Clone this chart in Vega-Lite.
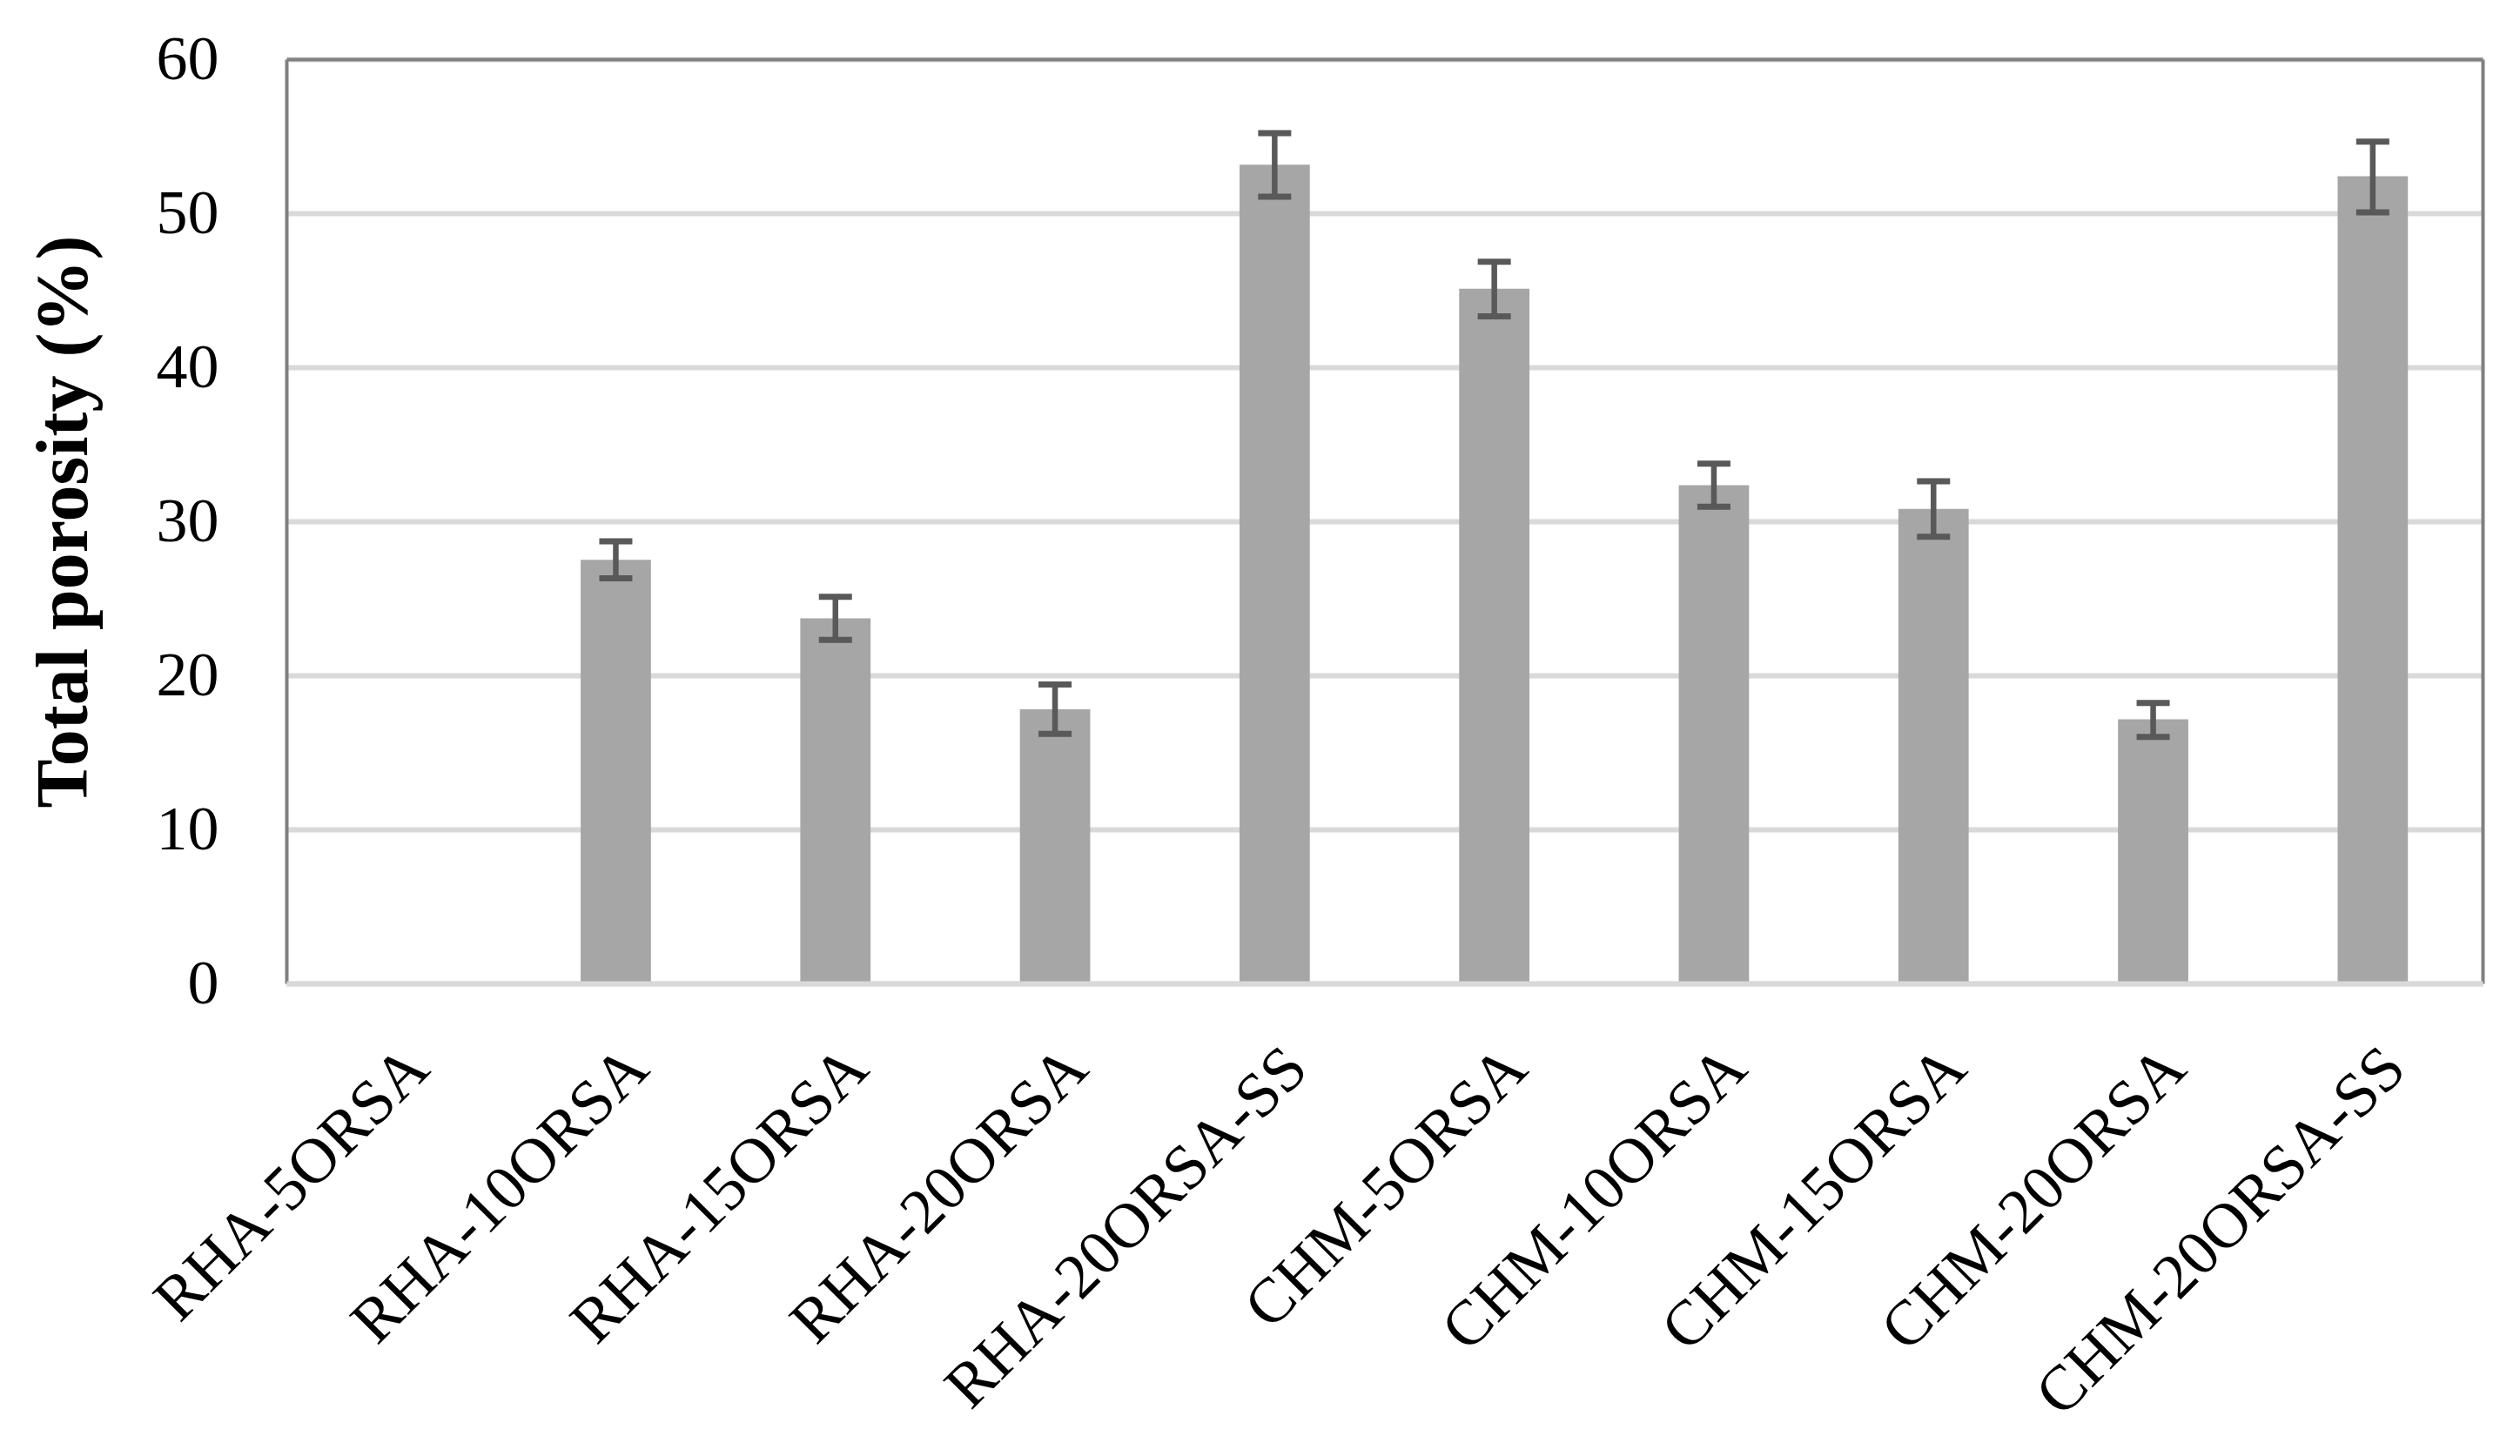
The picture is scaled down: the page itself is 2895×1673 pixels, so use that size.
{
  "$schema": "https://vega.github.io/schema/vega-lite/v6.json",
  "width": 2523,
  "height": 1062,
  "autosize": {"type": "none"},
  "padding": {"left": 329, "top": 68, "right": 43, "bottom": 543},
  "background": "white",
  "config": {
    "view": {"stroke": null},
    "font": "Liberation Serif"
  },
  "data": {
    "values": [
      {"sample": "RHA-5ORSA", "porosity": 0, "lo": null, "hi": null},
      {"sample": "RHA-10ORSA", "porosity": 27.5, "lo": 26.3, "hi": 28.7},
      {"sample": "RHA-15ORSA", "porosity": 23.7, "lo": 22.3, "hi": 25.1},
      {"sample": "RHA-20ORSA", "porosity": 17.8, "lo": 16.2, "hi": 19.4},
      {"sample": "RHA-20ORSA-SS", "porosity": 53.15, "lo": 51.07, "hi": 55.2},
      {"sample": "CHM-5ORSA", "porosity": 45.1, "lo": 43.3, "hi": 46.85},
      {"sample": "CHM-10ORSA", "porosity": 32.35, "lo": 30.95, "hi": 33.75},
      {"sample": "CHM-15ORSA", "porosity": 30.8, "lo": 29.0, "hi": 32.6},
      {"sample": "CHM-20ORSA", "porosity": 17.15, "lo": 16.0, "hi": 18.2},
      {"sample": "CHM-20ORSA-SS", "porosity": 52.4, "lo": 50.05, "hi": 54.65}
    ]
  },
  "resolve": {"axis": {"x": "independent", "y": "independent"}},
  "layer": [
    {
      "mark": {"type": "bar", "color": "#A6A6A6"},
      "encoding": {
        "x": {
          "field": "sample",
          "type": "nominal",
          "sort": null,
          "scale": {"paddingInner": 0.68, "paddingOuter": 0.34},
          "axis": {
            "title": null,
            "labelAngle": -45,
            "labelAlign": "right",
            "labelBaseline": "top",
            "labelPadding": 60,
            "labelOffset": 0,
            "labelFont": "Liberation Serif",
            "labelFontSize": 73,
            "labelColor": "#000000",
            "ticks": false,
            "domain": true,
            "domainColor": "#D9D9D9",
            "domainWidth": 6,
            "grid": false,
            "labelLimit": 1000,
            "zindex": 1
          }
        },
        "y": {
          "field": "porosity",
          "type": "quantitative",
          "scale": {"domain": [0, 60], "nice": false},
          "axis": {
            "title": "Total porosity (%)",
            "titleFont": "Liberation Serif",
            "titleFontSize": 84,
            "titleFontWeight": "bold",
            "titleColor": "#000000",
            "titlePadding": 62,
            "values": [0, 10, 20, 30, 40, 50, 60],
            "labelFont": "Liberation Serif",
            "labelFontSize": 72,
            "labelColor": "#000000",
            "labelPadding": 78,
            "ticks": false,
            "domain": true,
            "domainColor": "#808080",
            "domainWidth": 4,
            "grid": true,
            "gridColor": "#D9D9D9",
            "gridWidth": 6
          }
        }
      }
    },
    {
      "mark": {"type": "point", "opacity": 0},
      "encoding": {
        "x": {
          "field": "sample",
          "type": "nominal",
          "sort": null,
          "axis": {
            "orient": "top",
            "title": null,
            "labels": false,
            "ticks": false,
            "grid": false,
            "domain": true,
            "domainColor": "#808080",
            "domainWidth": 4
          }
        },
        "y": {
          "field": "porosity",
          "type": "quantitative",
          "axis": {
            "orient": "right",
            "title": null,
            "labels": false,
            "ticks": false,
            "grid": false,
            "domain": true,
            "domainColor": "#808080",
            "domainWidth": 4
          }
        }
      }
    },
    {
      "transform": [{"filter": "datum.lo != null"}],
      "mark": {"type": "rule", "color": "#595959", "strokeWidth": 6.5},
      "encoding": {
        "x": {"field": "sample", "type": "nominal", "sort": null, "axis": null},
        "y": {"field": "lo", "type": "quantitative", "axis": null},
        "y2": {"field": "hi"}
      }
    },
    {
      "transform": [{"filter": "datum.lo != null"}],
      "mark": {"type": "tick", "color": "#595959", "size": 38, "thickness": 7, "opacity": 1},
      "encoding": {
        "x": {"field": "sample", "type": "nominal", "sort": null, "axis": null},
        "y": {"field": "lo", "type": "quantitative", "axis": null}
      }
    },
    {
      "transform": [{"filter": "datum.lo != null"}],
      "mark": {"type": "tick", "color": "#595959", "size": 38, "thickness": 7, "opacity": 1},
      "encoding": {
        "x": {"field": "sample", "type": "nominal", "sort": null, "axis": null},
        "y": {"field": "hi", "type": "quantitative", "axis": null}
      }
    }
  ]
}
